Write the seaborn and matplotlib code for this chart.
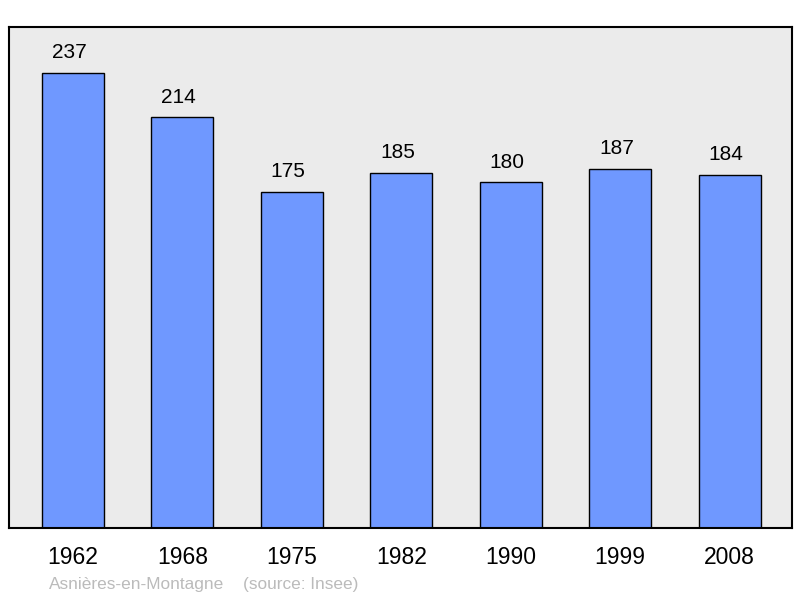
import matplotlib
matplotlib.use("Agg")
import matplotlib.pyplot as plt
import seaborn as sns
import pandas as pd

years = ["1962", "1968", "1975", "1982", "1990", "1999", "2008"]
population = [237, 214, 175, 185, 180, 187, 184]
commune = "Asnières-en-Montagne"
source = "(source: Insee)"

sns.set_style("white")
plt.rcParams['font.family'] = ['Liberation Sans', 'DejaVu Sans']

df = pd.DataFrame({"year": years, "pop": population})

fig = plt.figure(figsize=(8, 5.98), dpi=100)
ax = fig.add_axes([9/800, 1 - 528/598, (792-9)/800, (528-27)/598])
ax.set_facecolor("#ebebeb")

sns.barplot(data=df, x="year", y="pop", color="#6f98ff", saturation=1,
            width=0.567, edgecolor="black", linewidth=1.0, ax=ax)

for i, v in enumerate(population):
    ax.text(i - 0.035, v + 10.5, str(v), ha="center", va="center", fontsize=15, color="black")

ax.set_xlim(-0.585, 6.57)
ax.set_ylim(0, 261)
ax.set_xlabel("")
ax.set_ylabel("")
ax.set_yticks([])
ax.tick_params(axis="x", length=0, pad=13, labelsize=16.5, labelcolor="black")
for s in ax.spines.values():
    s.set_visible(True)
    s.set_color("black")
    s.set_linewidth(1.5)

fig.text(49/800, 1 - 584/598, commune, fontsize=12.4, color="#bbbbbb", ha="left", va="center")
fig.text(243/800, 1 - 584/598, source, fontsize=12.4, color="#bbbbbb", ha="left", va="center")

fig.savefig("out.png", dpi=100)
